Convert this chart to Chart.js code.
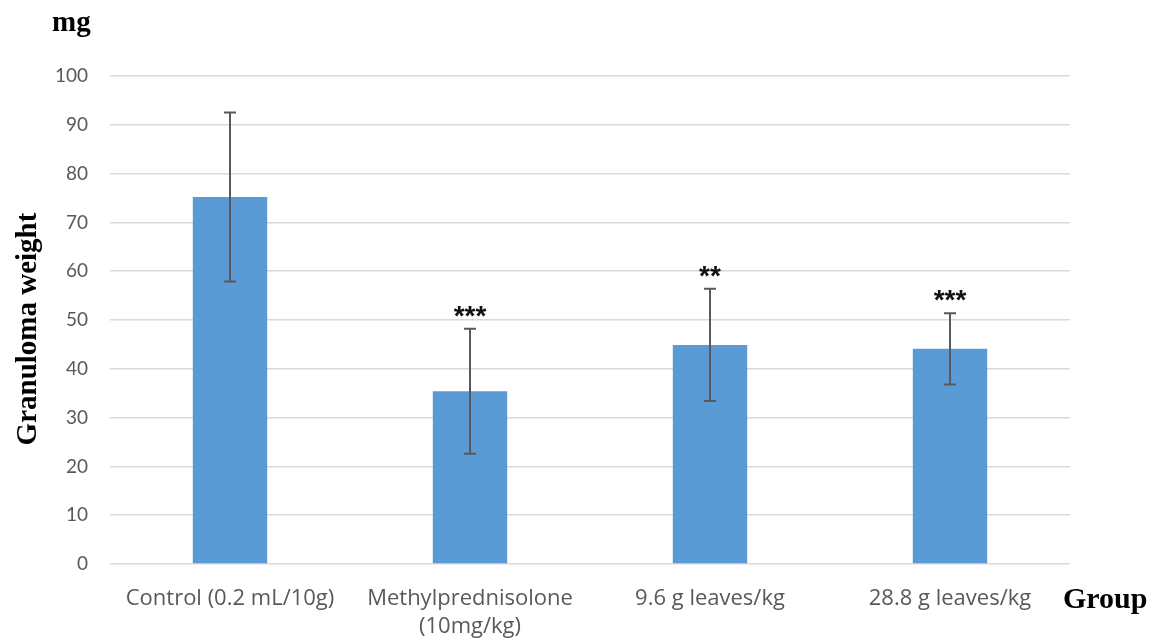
<!DOCTYPE html>
<html>
<head>
<meta charset="utf-8">
<script src="https://cdn.jsdelivr.net/npm/chart.js@4.4.1/dist/chart.umd.min.js"></script>
<style>
  html, body { margin: 0; padding: 0; background: #ffffff; }
  #wrap { width: 1150px; height: 639px; position: relative; }
</style>
</head>
<body>
<div id="wrap"><canvas id="c" width="1150" height="639"></canvas></div>
<script>
const categories = [["Control (0.2 mL/10g)"], ["Methylprednisolone", "(10mg/kg)"], ["9.6 g leaves/kg"], ["28.8 g leaves/kg"]];
const means = [75.2, 35.4, 44.9, 44.1];
const errors = [17.3, 12.8, 11.5, 7.3];
const significance = ["", "***", "**", "***"];
const yTicks = [0, 10, 20, 30, 40, 50, 60, 70, 80, 90, 100];

const yTickFont = { family: "Lato, 'Open Sans', sans-serif", size: 19 };
const xTickFont = { family: "'Open Sans', Lato, sans-serif", size: 22, lineHeight: 1.27 };
const titleFont = "bold 29px 'Liberation Serif', 'DejaVu Serif', serif";

const errorBarPlugin = {
  id: 'errorBars',
  afterDatasetsDraw(chart) {
    const ctx = chart.ctx;
    const meta = chart.getDatasetMeta(0);
    const y = chart.scales.y;
    ctx.save();
    ctx.strokeStyle = '#595959';
    ctx.lineWidth = 2;
    meta.data.forEach((bar, i) => {
      const x = bar.x;
      const yTop = y.getPixelForValue(means[i] + errors[i]);
      const yBot = y.getPixelForValue(means[i] - errors[i]);
      ctx.beginPath();
      ctx.moveTo(x, yTop); ctx.lineTo(x, yBot);
      ctx.moveTo(x - 6, yTop); ctx.lineTo(x + 6, yTop);
      ctx.moveTo(x - 6, yBot); ctx.lineTo(x + 6, yBot);
      ctx.stroke();
      if (significance[i]) {
        ctx.fillStyle = '#111111';
        ctx.font = "bold 28px 'Liberation Sans', Arial, sans-serif";
        ctx.textAlign = 'center';
        ctx.textBaseline = 'alphabetic';
        ctx.fillText(significance[i], x, yTop - 4);
      }
    });
    ctx.restore();
  }
};

const titlesPlugin = {
  id: 'titles',
  afterDraw(chart) {
    const ctx = chart.ctx;
    ctx.save();
    ctx.fillStyle = '#000000';
    ctx.font = titleFont;
    ctx.textBaseline = 'middle';
    ctx.textAlign = 'left';
    ctx.fillText('mg', 52, 24);
    ctx.font = "bold 30px 'Liberation Serif', 'DejaVu Serif', serif";
    ctx.fillText('Group', 1063, 600);
    ctx.font = titleFont;
    ctx.translate(29, 329);
    ctx.rotate(-Math.PI / 2);
    ctx.textAlign = 'center';
    ctx.fillText('Granuloma weight', 0, 0);
    ctx.restore();
  }
};

new Chart(document.getElementById('c'), {
  type: 'bar',
  data: {
    labels: categories,
    datasets: [{
      data: means,
      backgroundColor: '#5b9bd5',
      borderWidth: 0,
      barPercentage: 0.31,
      categoryPercentage: 1.0
    }]
  },
  options: {
    responsive: false,
    animation: false,
    devicePixelRatio: 1,
    layout: { padding: { top: 76, right: 80, left: 0, bottom: 0 } },
    plugins: { legend: { display: false }, tooltip: { enabled: false } },
    scales: {
      x: {
        grid: { display: false, drawTicks: false },
        border: { display: false },
        ticks: { color: '#595959', font: xTickFont, padding: 21, maxRotation: 0, autoSkip: false },
        afterFit(scale) { scale.height = 75; }
      },
      y: {
        min: 0, max: 100,
        afterBuildTicks(scale) { scale.ticks = yTicks.map(v => ({ value: v })); },
        grid: { color: '#d9d9d9', lineWidth: 1.5, drawTicks: false },
        border: { display: false },
        ticks: { color: '#595959', font: yTickFont, padding: 22 },
        afterFit(scale) { scale.width = 110; }
      }
    }
  },
  plugins: [errorBarPlugin, titlesPlugin]
});
</script>
</body>
</html>
